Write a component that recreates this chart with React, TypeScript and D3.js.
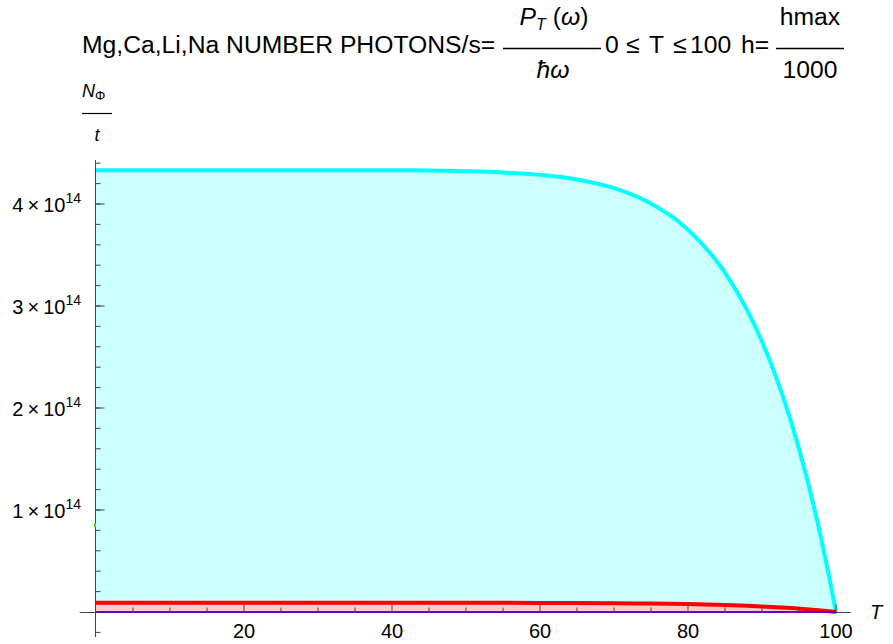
import React from 'react';
import * as d3 from 'd3';

// Temperature T (x) and photon rates (y, photons/s)
const T_CYAN = [0, 10, 20, 30, 40, 45, 50, 55, 60, 65, 70, 75, 80, 85, 88, 90, 92, 94, 96, 98, 99, 100];
const N_CYAN = [4.33, 4.33, 4.33, 4.33, 4.33, 4.329, 4.322, 4.31, 4.286, 4.24, 4.155, 4.005, 3.749, 3.327, 2.96, 2.652, 2.285, 1.849, 1.331, 0.72, 0.375, 0].map(v => v * 1e14);

const T_RED = [0, 50, 60, 70, 75, 80, 85, 88, 90, 92, 94, 96, 98, 100];
const N_RED = [0.09, 0.0898, 0.0891, 0.0864, 0.0832, 0.0779, 0.0691, 0.0615, 0.0551, 0.0475, 0.0384, 0.0277, 0.015, 0].map(v => v * 1e14);

const T_PURPLE = [0, 50, 100];
const N_PURPLE = [0.001, 0.001, 0].map(v => v * 1e14);

const T_GREEN = [0];
const N_GREEN = [0.85e14];

const X_MAJOR = [20, 40, 60, 80, 100];
const X_MINOR = [5, 10, 15, 25, 30, 35, 45, 50, 55, 65, 70, 75, 85, 90, 95];
const Y_MAJOR = [1, 2, 3, 4];
const Y_MINOR_STEPS = d3.range(-1, 23); // multiples of 0.2e14

const X_AXIS_EXTENT = [-2.2, 102];
const Y_AXIS_EXTENT = [-0.245e14, 4.43e14];

const FONT = "'Liberation Sans', Arial, sans-serif";

export default function App() {
  const x = d3.scaleLinear().domain([0, 100]).range([96, 836]);
  const y = d3.scaleLinear().domain([0, 4e14]).range([612, 204]);

  const zip = (a: number[], b: number[]) => a.map((t, i) => [t, b[i]] as [number, number]);
  const line = d3.line<[number, number]>().x(d => x(d[0])).y(d => y(d[1])).curve(d3.curveMonotoneX);
  const area = d3.area<[number, number]>().x(d => x(d[0])).y0(y(0)).y1(d => y(d[1])).curve(d3.curveMonotoneX);

  const cyan = zip(T_CYAN, N_CYAN);
  const red = zip(T_RED, N_RED);
  const purple = zip(T_PURPLE, N_PURPLE);
  const green = zip(T_GREEN, N_GREEN);

  const axisColor = '#444';
  const x0 = x(0) - 0.5;
  const y0 = y(0) + 0.5;
  const fs = 24.7;

  return (
    <svg width={893} height={644} style={{ position: 'absolute', left: 0, top: 0, background: '#fff' }} fontFamily={FONT}>
      {/* Title */}
      <text x={82} y={53} fontSize={fs}>Mg,Ca,Li,Na NUMBER PHOTONS/s=</text>
      <text x={554} y={25} fontSize={fs} textAnchor="middle">
        <tspan fontStyle="italic">P</tspan>
        <tspan fontStyle="italic" fontSize={16} dy={5}>T</tspan>
        <tspan dy={-5}> (</tspan>
        <tspan fontStyle="italic">ω</tspan>
        <tspan>)</tspan>
      </text>
      <line x1={503} x2={601} y1={48.5} y2={48.5} stroke="#000" strokeWidth={1.3} />
      <text x={553} y={78} fontSize={fs} textAnchor="middle" fontStyle="italic">ħω</text>
      <text y={53} fontSize={fs}>
        <tspan x={605}>0</tspan>
        <tspan x={626}>≤</tspan>
        <tspan x={649}>T</tspan>
        <tspan x={673}>≤</tspan>
        <tspan x={690}>100</tspan>
        <tspan x={741}>h=</tspan>
      </text>
      <text x={810} y={25} fontSize={fs} textAnchor="middle">hmax</text>
      <line x1={776} x2={844} y1={48.5} y2={48.5} stroke="#000" strokeWidth={1.3} />
      <text x={810} y={78} fontSize={fs} textAnchor="middle">1000</text>

      {/* Y label */}
      <text x={82} y={97} fontSize={18}>
        <tspan fontStyle="italic">N</tspan>
        <tspan fontSize={13} dy={3}>Φ</tspan>
      </text>
      <line x1={82} x2={112} y1={113.5} y2={113.5} stroke="#000" strokeWidth={1.2} />
      <text x={97} y={141} fontSize={18} fontStyle="italic" textAnchor="middle">t</text>

      {/* Fills */}
      <path d={area(cyan) || ''} fill="rgb(204,255,255)" />
      <path d={area(red) || ''} fill="rgb(255,204,204)" />

      {/* Axis lines */}
      <line x1={x(X_AXIS_EXTENT[0])} x2={x(X_AXIS_EXTENT[1])} y1={y0} y2={y0} stroke={axisColor} strokeWidth={1} />
      <line x1={x0} x2={x0} y1={y(Y_AXIS_EXTENT[0])} y2={y(Y_AXIS_EXTENT[1])} stroke={axisColor} strokeWidth={1} />

      {/* Curves */}
      <path d={line(cyan) || ''} fill="none" stroke="#00ffff" strokeWidth={4} strokeLinejoin="round" />
      <path d={line(red) || ''} fill="none" stroke="#ff0000" strokeWidth={4} strokeLinejoin="round" />
      <path d={line(purple) || ''} fill="none" stroke="#6a00c8" strokeWidth={2} />
      {green.map((d, i) => (
        <line key={i} x1={x(d[0]) - 1} x2={x(d[0]) - 1} y1={y(d[1]) - 2} y2={y(d[1]) + 2} stroke="#55dd00" strokeWidth={2} />
      ))}

      {/* X ticks */}
      {X_MINOR.map(t => (
        <line key={'xm' + t} x1={x(t)} x2={x(t)} y1={y0} y2={y0 - 5} stroke={axisColor} strokeWidth={1} />
      ))}
      {X_MAJOR.map(t => (
        <g key={'xM' + t}>
          <line x1={x(t)} x2={x(t)} y1={y0} y2={y0 - 8} stroke={axisColor} strokeWidth={1} />
          <text x={x(t)} y={638} fontSize={20} textAnchor="middle">{t}</text>
        </g>
      ))}
      <text x={870} y={619} fontSize={20} fontStyle="italic">T</text>

      {/* Y ticks */}
      {Y_MINOR_STEPS.map(i => (
        <line key={'ym' + i} x1={x0} x2={x0 + 5} y1={y(i * 0.2e14)} y2={y(i * 0.2e14)} stroke={axisColor} strokeWidth={1} />
      ))}
      {Y_MAJOR.map(v => (
        <g key={'yM' + v}>
          <line x1={x0} x2={x0 + 9} y1={y(v * 1e14)} y2={y(v * 1e14)} stroke={axisColor} strokeWidth={1} />
          <text x={81} y={y(v * 1e14) + 8} fontSize={20} textAnchor="end">
            {v}{'\u2009×\u2009'}10<tspan fontSize={14} dy={-9}>14</tspan>
          </text>
        </g>
      ))}
    </svg>
  );
}
